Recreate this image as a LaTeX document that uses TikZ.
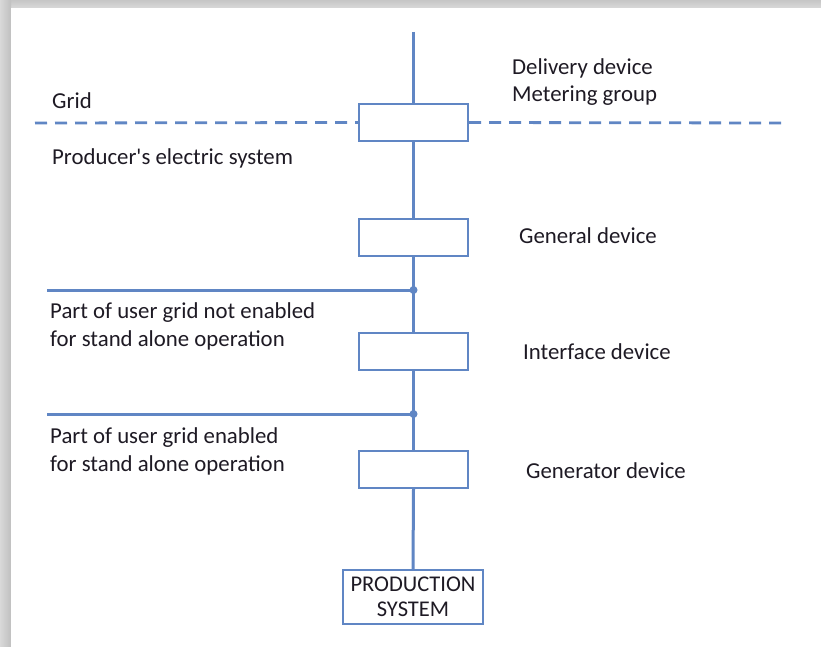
\documentclass[tikz,border=0pt]{standalone}
\usepackage{fontspec}
\setmainfont{Carlito}
\definecolor{lineblue}{RGB}{96,134,196}
\definecolor{txt}{RGB}{30,26,36}
\begin{document}
\begin{tikzpicture}[x=1pt,y=-1pt,
  wire/.style={draw=lineblue,line width=3pt},
  devbox/.style={draw=lineblue,line width=2.2pt,fill=white,minimum width=109pt,minimum height=37pt,inner sep=0pt},
  lbl/.style={anchor=west,text=txt,font=\fontsize{22.8}{27.5}\selectfont,inner sep=0pt,align=left},
  junc/.style={circle,fill=lineblue,inner sep=0pt,minimum size=8pt}]
\useasboundingbox (0,0) rectangle (821,647);
\fill[white] (0,0) rectangle (821,647);
% page shadow
\shade[top color=gray!45,bottom color=gray!30] (0,0) rectangle (821,8);
\shade[left color=gray!30,right color=gray!50] (0,0) rectangle (11,647);
\fill[white] (11,8) rectangle (821,647);
% coordinates
\coordinate (top) at (413.5,32);
\coordinate (dl) at (35,123);
\coordinate (dr) at (786,123);
\coordinate (h1) at (47,290);
\coordinate (h2) at (47,414);
% boxes
\node[devbox] (b1) at (413.5,122.5) {};
\node[devbox] (b2) at (413.5,237.5) {};
\node[devbox] (b3) at (413.5,351.5) {};
\node[devbox] (b4) at (413.5,469.5) {};
\node[draw=lineblue,line width=2pt,fill=white,minimum width=140pt,minimum height=54pt,inner sep=0pt,
      text=txt,font=\fontsize{22.5}{25}\selectfont,align=center] (ps) at (413,597) {PRODUCTION\\SYSTEM};
\node[junc] (j1) at (413.5,290) {};
\node[junc] (j2) at (413.5,414) {};
% wires
\draw[wire] (top) -- (b1.north);
\draw[wire] (b1.south) -- (b2.north);
\draw[wire] (b2.south) -- (j1.center) -- (b3.north);
\draw[wire] (b3.south) -- (j2.center) -- (b4.north);
\draw[wire] (b4.south) -- (ps.north);
\draw[wire] (h1) -- (j1.center);
\draw[wire] (h2) -- (j2.center);
\draw[draw=lineblue,line width=2.8pt,dash pattern=on 12pt off 8pt] (dl) -- (b1.west);
\draw[draw=lineblue,line width=2.8pt,dash pattern=on 12pt off 8pt] (b1.east) -- (dr);
% labels
\node[lbl] (grid) at (52,101) {Grid};
\node[lbl] (prod) at (52,158) {Producer\textquotesingle s electric system};
\node[lbl] (deliv) at (512,68) {Delivery device};
\node[lbl] (meter) at (512,96) {Metering group};
\node[lbl] (gen) at (519,236) {General device};
\node[lbl] (p1) at (50,326.5) {Part of user grid not enabled\\for stand alone operation};
\node[lbl] (intf) at (523,352) {Interface device};
\node[lbl] (p2) at (50,451.5) {Part of user grid enabled\\for stand alone operation};
\node[lbl] (genr) at (526,471) {Generator device};
\end{tikzpicture}
\end{document}
